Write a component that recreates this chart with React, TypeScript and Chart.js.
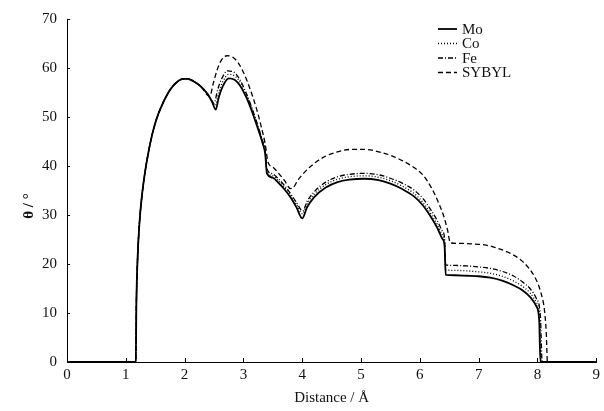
import React, { useEffect, useRef } from "react";
import { Chart, registerables } from "chart.js";

Chart.register(...registerables);

const seriesLabels = ["Mo", "Co", "Fe", "SYBYL"];
const xTickValues = [0, 1, 2, 3, 4, 5, 6, 7, 8, 9];
const yTickValues = [0, 10, 20, 30, 40, 50, 60, 70];
const xAxisTitle = "Distance / Å";
const yAxisTitle = "θ / °";

const riseX = [0, 1.17, 1.18, 1.2, 1.23, 1.27, 1.32, 1.38, 1.45, 1.52, 1.6, 1.7, 1.8, 1.9, 1.97, 2.05, 2.15, 2.26, 2.39];
const riseY = [0, 0, 12, 21, 28, 33.5, 38.2, 42.5, 46.5, 49.5, 52, 54.5, 56.3, 57.4, 57.8, 57.8, 57.3, 56.4, 54.7];

const moX = [2.47, 2.53, 2.58, 2.65, 2.75, 2.85, 2.95, 3.05, 3.15, 3.25, 3.33, 3.37, 3.4, 3.5, 3.6, 3.7, 3.8, 3.9, 4.0, 4.08, 4.2, 4.4, 4.6, 4.8, 5.05, 5.3, 5.5, 5.7, 5.9, 6.05, 6.2, 6.3, 6.38, 6.42, 6.44, 6.6, 6.8, 7.0, 7.2, 7.4, 7.6, 7.75, 7.88, 7.98, 8.03, 8.05, 9];
const moY = [53, 51.5, 54, 56.3, 57.9, 57.6, 56.3, 54, 51, 47.5, 44.5, 42.5, 38.5, 37.6, 36.5, 35.2, 33.6, 31.6, 29.3, 31.5, 33.6, 35.6, 36.7, 37.2, 37.4, 37.1, 36.4, 35.3, 33.8, 32, 29.4, 27.3, 25.2, 23.8, 17.8, 17.7, 17.6, 17.5, 17.2, 16.6, 15.6, 14.6, 13.2, 11.4, 8.5, 0, 0];

const coX = [2.47, 2.52, 2.58, 2.65, 2.75, 2.85, 2.95, 3.05, 3.15, 3.25, 3.33, 3.37, 3.4, 3.5, 3.6, 3.7, 3.8, 3.9, 4.01, 4.08, 4.2, 4.4, 4.6, 4.8, 5.05, 5.3, 5.5, 5.7, 5.9, 6.05, 6.2, 6.3, 6.38, 6.42, 6.44, 6.6, 6.8, 7.0, 7.2, 7.4, 7.6, 7.75, 7.88, 7.98, 8.04, 8.06, 9];
const coY = [53.2, 52.3, 55, 57.2, 58.7, 58.4, 57, 54.6, 51.5, 48, 44.8, 42.8, 39, 38, 36.9, 35.6, 34, 32.2, 30.2, 32.2, 34.2, 36.2, 37.3, 37.8, 38, 37.7, 37, 35.9, 34.4, 32.6, 30, 28, 26, 24.6, 18.8, 18.7, 18.6, 18.4, 18.1, 17.5, 16.5, 15.4, 14, 12.2, 9, 0, 0];

const feX = [2.45, 2.5, 2.56, 2.63, 2.73, 2.83, 2.93, 3.03, 3.13, 3.23, 3.32, 3.37, 3.4, 3.5, 3.6, 3.7, 3.8, 3.9, 4.01, 4.08, 4.2, 4.4, 4.6, 4.8, 5.05, 5.3, 5.5, 5.7, 5.9, 6.05, 6.2, 6.3, 6.38, 6.42, 6.44, 6.6, 6.8, 7.0, 7.2, 7.4, 7.6, 7.75, 7.88, 7.98, 8.05, 8.08, 9];
const feY = [53.6, 52.8, 55.5, 57.8, 59.4, 59.2, 57.8, 55.4, 52.3, 48.8, 45.3, 43.2, 39.4, 38.4, 37.3, 36, 34.4, 32.6, 30.8, 32.7, 34.7, 36.7, 37.8, 38.3, 38.5, 38.2, 37.5, 36.5, 35.1, 33.4, 30.8, 28.8, 26.8, 25.4, 19.8, 19.7, 19.6, 19.4, 19.1, 18.5, 17.5, 16.3, 14.9, 13, 9.5, 0, 0];

const sybylX = [2.43, 2.48, 2.55, 2.62, 2.72, 2.82, 2.92, 3.02, 3.12, 3.22, 3.3, 3.37, 3.42, 3.5, 3.6, 3.7, 3.8, 3.85, 3.92, 4.0, 4.15, 4.35, 4.6, 4.85, 5.05, 5.3, 5.5, 5.7, 5.9, 6.05, 6.2, 6.3, 6.4, 6.47, 6.52, 6.7, 6.9, 7.1, 7.3, 7.5, 7.7, 7.85, 7.97, 8.05, 8.12, 8.15, 8.17, 9];
const sybylY = [54.2, 56.5, 59.5, 61.5, 62.5, 62.2, 60.9, 58.6, 55.5, 51.8, 48.2, 44.5, 40.7, 39.8, 38.5, 37, 35.4, 35.6, 37, 38.2, 40, 41.7, 42.9, 43.4, 43.4, 42.9, 42.2, 41.1, 39.7, 38.2, 35.5, 33, 30, 27, 24.3, 24.2, 24.1, 23.9, 23.3, 22.4, 21, 19.2, 17, 14.5, 10.5, 6, 0, 0];

const toPoints = (xs: number[], ys: number[]) => xs.map((x, i) => ({ x, y: ys[i] }));

const FONT = "'Liberation Serif', 'DejaVu Serif', serif";

const inwardTicks = {
  id: "inwardTicks",
  afterDraw(chart: any) {
    const { ctx, chartArea, scales } = chart;
    ctx.save();
    ctx.strokeStyle = "#000";
    ctx.lineWidth = 1;
    ctx.setLineDash([]);
    for (const v of xTickValues) {
      const px = Math.round(scales.x.getPixelForValue(v)) + 0.5;
      ctx.beginPath();
      ctx.moveTo(px, chartArea.bottom);
      ctx.lineTo(px, chartArea.bottom - 4);
      ctx.stroke();
    }
    for (const v of yTickValues) {
      const py = Math.round(scales.y.getPixelForValue(v)) + 0.5;
      ctx.beginPath();
      ctx.moveTo(chartArea.left, py);
      ctx.lineTo(chartArea.left + 3, py);
      ctx.stroke();
    }
    ctx.fillStyle = "#111";
    ctx.font = `bold 15px ${FONT}`;
    ctx.textAlign = "center";
    ctx.textBaseline = "middle";
    ctx.translate(29, 206);
    ctx.rotate(-Math.PI / 2);
    ctx.fillText(yAxisTitle, 0, 0);
    ctx.restore();

    ctx.save();
    const ds = chart.data.datasets;
    ds.forEach((d: any, i: number) => {
      const y = 29 + i * 14.5;
      ctx.strokeStyle = "#000";
      ctx.lineWidth = d.borderWidth;
      ctx.setLineDash(d.borderDash || []);
      ctx.beginPath();
      ctx.moveTo(438, y);
      ctx.lineTo(457, y);
      ctx.stroke();
      ctx.setLineDash([]);
      ctx.fillStyle = "#111";
      ctx.font = `15px ${FONT}`;
      ctx.textAlign = "left";
      ctx.textBaseline = "middle";
      ctx.fillText(d.label, 462, y + 1);
    });
    ctx.restore();
  },
};

export default function App() {
  const ref = useRef<HTMLCanvasElement | null>(null);
  useEffect(() => {
    if (!ref.current) return;
    const mk = (label: string, xs: number[], ys: number[], dash: number[], width: number) => ({
      label,
      data: toPoints(xs, ys),
      borderColor: "#000",
      borderWidth: width,
      borderDash: dash,
      pointRadius: 0,
      fill: false,
      cubicInterpolationMode: "monotone" as const,
    });
    const chart = new Chart(ref.current, {
      type: "line",
      data: {
        datasets: [
          mk(seriesLabels[0], [...riseX, ...moX], [...riseY, ...moY], [], 1.8),
          mk(seriesLabels[1], [...riseX, ...coX], [...riseY, ...coY], [1, 2], 1.3),
          mk(seriesLabels[2], [...riseX, ...feX], [...riseY, ...feY], [5, 2, 1, 2], 1.3),
          mk(seriesLabels[3], [...riseX.slice(0, -1), ...sybylX], [...riseY.slice(0, -1), ...sybylY], [5, 3], 1.3),
        ],
      },
      options: {
        animation: false,
        responsive: false,
        devicePixelRatio: 1,
        layout: { padding: { top: 18, right: 7, left: 0, bottom: 0 } },
        plugins: { legend: { display: false }, tooltip: { enabled: false } },
        scales: {
          x: {
            type: "linear",
            min: 0,
            max: 9,
            afterBuildTicks: (s: any) => {
              s.ticks = xTickValues.map((v) => ({ value: v }));
            },
            afterFit: (s: any) => {
              s.height = 49;
            },
            grid: { display: false, drawTicks: false },
            border: { display: true, color: "#000", width: 1 },
            ticks: {
              color: "#111",
              font: { family: FONT, size: 15 },
              padding: 4,
              maxRotation: 0,
              autoSkip: false,
            },
            title: {
              display: true,
              text: xAxisTitle,
              color: "#111",
              font: { family: FONT, size: 15 },
              padding: { top: 0, bottom: 4 },
            },
          },
          y: {
            type: "linear",
            min: 0,
            max: 70,
            afterBuildTicks: (s: any) => {
              s.ticks = yTickValues.map((v) => ({ value: v }));
            },
            afterFit: (s: any) => {
              s.width = 67;
            },
            grid: { display: false, drawTicks: false },
            border: { display: true, color: "#000", width: 1 },
            ticks: {
              color: "#111",
              font: { family: FONT, size: 15 },
              padding: 10,
            },
          },
        },
      },
      plugins: [inwardTicks],
    });
    return () => chart.destroy();
  }, []);
  return (
    <div style={{ position: "absolute", left: 0, top: 0, width: 604, height: 411, background: "#fff" }}>
      <canvas ref={ref} width={604} height={411} />
    </div>
  );
}
